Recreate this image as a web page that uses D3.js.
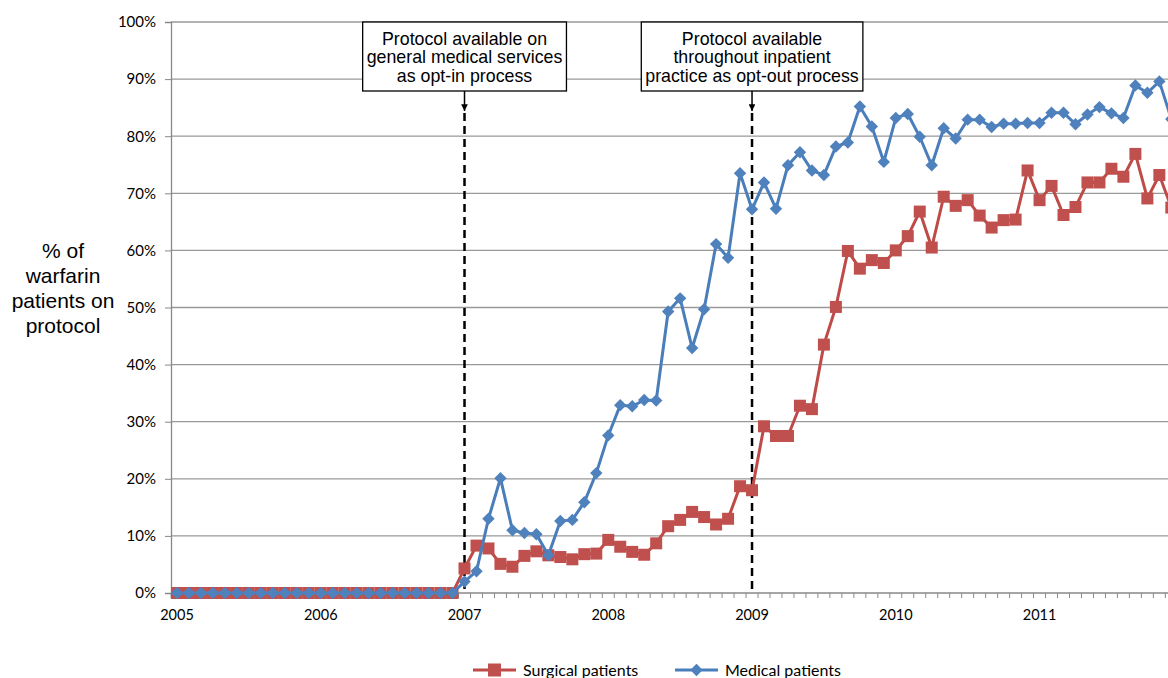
<!DOCTYPE html>
<html>
<head>
<meta charset="utf-8">
<script src="https://cdn.jsdelivr.net/npm/d3@7"></script>
<style>
  body { margin: 0; background: #fff; }
  svg { display: block; overflow: hidden; }
</style>
</head>
<body>
<div id="chart"></div>
<script>
// monthly values, Jan 2005 .. Dec 2011 (84 months)
var surgical = [
    0, 0, 0, 0, 0, 0, 0, 0, 0, 0, 0, 0,
    0, 0, 0, 0, 0, 0, 0, 0, 0, 0, 0, 0,
    4.3, 8.3, 7.8, 5.1, 4.6, 6.5, 7.3, 6.6, 6.3, 5.9, 6.8, 6.9,
    9.3, 8.1, 7.2, 6.7, 8.7, 11.7, 12.8, 14.2, 13.3, 12.0, 13.0, 18.7,
    18.0, 29.2, 27.5, 27.5, 32.8, 32.2, 43.5, 50.1, 59.9, 56.8, 58.3, 57.8,
    60.0, 62.5, 66.8, 60.5, 69.4, 67.8, 68.8, 66.1, 64.0, 65.3, 65.4, 74.0,
    68.8, 71.3, 66.2, 67.6, 71.9, 71.9, 74.3, 72.9, 76.9, 69.1, 73.2, 67.5
];
var medical = [
    0, 0, 0, 0, 0, 0, 0, 0, 0, 0, 0, 0,
    0, 0, 0, 0, 0, 0, 0, 0, 0, 0, 0, 0,
    2.0, 3.8, 13.0, 20.1, 11.0, 10.5, 10.3, 6.6, 12.6, 12.8, 15.9, 21.0,
    27.6, 32.9, 32.7, 33.8, 33.7, 49.3, 51.6, 42.9, 49.7, 61.1, 58.7, 73.5,
    67.2, 71.9, 67.3, 74.9, 77.2, 74.0, 73.2, 78.2, 78.9, 85.2, 81.7, 75.5,
    83.2, 83.9, 79.9, 74.9, 81.4, 79.6, 82.9, 82.9, 81.6, 82.2, 82.2, 82.3,
    82.3, 84.1, 84.1, 82.1, 83.8, 85.1, 84.0, 83.2, 88.9, 87.6, 89.6, 83.0
];
var years = ["2005", "2006", "2007", "2008", "2009", "2010", "2011"];
var yTicks = [0, 10, 20, 30, 40, 50, 60, 70, 80, 90, 100];
var yTitle = ["% of", "warfarin", "patients on", "protocol"];
// month index of each protocol change
var events = [
    { month: 24, lines: ["Protocol available on", "general medical services", "as opt-in process"] },
    { month: 48, lines: ["Protocol available", "throughout inpatient", "practice as opt-out process"] }
];
var seriesNames = ["Surgical patients", "Medical patients"];

var width = 1168, height = 678;
var plotLeft = 171, plotTop = 22, plotBottom = 593, monthW = 11.98;
var red = "#be4b48", redFill = "#c0504d", blue = "#4a7ebb", blueFill = "#4f81bd";
var calibri = "Lato, 'Open Sans', sans-serif";
var arial = "'Liberation Sans', Arial, sans-serif";

var svg = d3.select("#chart").append("svg")
    .attr("width", width)
    .attr("height", height);

var months = d3.range(surgical.length);
var x = d3.scaleBand()
    .domain(months)
    .range([plotLeft, plotLeft + months.length * monthW])
    .padding(0);
var cx = function (i) { return x(i) + x.bandwidth() / 2; };
var y = d3.scaleLinear().domain([0, 100]).range([plotBottom, plotTop]);

// gridlines
svg.append("g")
    .selectAll("line")
    .data(yTicks.filter(function (d) { return d > 0; }))
    .enter()
    .append("line")
    .attr("x1", plotLeft)
    .attr("x2", width)
    .attr("y1", function (d) { return y(d); })
    .attr("y2", function (d) { return y(d); })
    .attr("stroke", "#999")
    .attr("stroke-width", 1.3);

// y axis
var yAxis = svg.append("g")
    .attr("transform", "translate(" + plotLeft + ",0)")
    .call(d3.axisLeft(y).tickValues(yTicks).tickSize(6).tickPadding(9)
        .tickFormat(function (d) { return d + "%"; }));
yAxis.select(".domain").attr("stroke", "#888").attr("stroke-width", 1.3);
yAxis.selectAll(".tick line").attr("stroke", "#888");
yAxis.selectAll("text")
    .attr("font-family", calibri)
    .attr("font-size", 15)
    .attr("fill", "#000");

// x axis: minor tick at each month boundary
var xAxisG = svg.append("g").attr("transform", "translate(0," + plotBottom + ")");
xAxisG.append("line")
    .attr("x1", plotLeft).attr("x2", width)
    .attr("stroke", "#888").attr("stroke-width", 1.3);
xAxisG.selectAll("line.tick")
    .data(d3.range(months.length + 1))
    .enter()
    .append("line")
    .attr("class", "tick")
    .attr("x1", function (i) { return plotLeft + i * x.bandwidth(); })
    .attr("x2", function (i) { return plotLeft + i * x.bandwidth(); })
    .attr("y1", 0).attr("y2", 5)
    .attr("stroke", "#888");
xAxisG.selectAll("text")
    .data(years)
    .enter()
    .append("text")
    .attr("x", function (d, i) { return cx(i * 12); })
    .attr("y", 27)
    .attr("text-anchor", "middle")
    .attr("font-family", calibri)
    .attr("font-size", 14.5)
    .text(function (d) { return d; });

// y title
svg.append("text")
    .attr("text-anchor", "middle")
    .attr("font-family", arial)
    .attr("font-size", 21)
    .selectAll("tspan")
    .data(yTitle)
    .enter()
    .append("tspan")
    .attr("x", 63)
    .attr("y", function (d, i) { return 258 + i * 25; })
    .text(function (d) { return d; });

// event markers
svg.append("defs").append("marker")
    .attr("id", "arrow")
    .attr("viewBox", "0 0 10 10")
    .attr("refX", 10).attr("refY", 5)
    .attr("markerWidth", 4.5).attr("markerHeight", 4.5)
    .attr("orient", "auto")
    .append("path")
    .attr("d", "M0,0 L10,5 L0,10 Z")
    .attr("fill", "#000");

var ev = svg.selectAll("g.event")
    .data(events)
    .enter()
    .append("g")
    .attr("class", "event");
ev.append("line")
    .attr("x1", function (d) { return cx(d.month); })
    .attr("x2", function (d) { return cx(d.month); })
    .attr("y1", 113)
    .attr("y2", plotBottom)
    .attr("stroke", "#000")
    .attr("stroke-width", 2.5)
    .attr("stroke-dasharray", "8,5");
ev.append("line")
    .attr("x1", function (d) { return cx(d.month); })
    .attr("x2", function (d) { return cx(d.month); })
    .attr("y1", 91)
    .attr("y2", 111)
    .attr("stroke", "#000")
    .attr("stroke-width", 1.5)
    .attr("marker-end", "url(#arrow)");

ev.each(function (d) {
    var g = d3.select(this);
    var t = g.append("text")
        .attr("text-anchor", "middle")
        .attr("font-family", arial)
        .attr("font-size", 17.8)
        .attr("fill", "#000");
    d.lines.forEach(function (line, i) {
        t.append("tspan")
            .attr("x", cx(d.month))
            .attr("y", 45 + i * 18.3)
            .text(line);
    });
    var bb = t.node().getBBox();
    g.insert("rect", "text")
        .attr("x", bb.x - 4)
        .attr("y", 22)
        .attr("width", bb.width + 8)
        .attr("height", 69)
        .attr("fill", "#fff")
        .attr("stroke", "#000")
        .attr("stroke-width", 1.3);
});

// series
var line = d3.line()
    .x(function (d, i) { return cx(i); })
    .y(function (d) { return y(d); });

svg.append("path")
    .datum(surgical)
    .attr("d", line)
    .attr("fill", "none")
    .attr("stroke", red)
    .attr("stroke-width", 3);
svg.append("g")
    .selectAll("rect")
    .data(surgical)
    .enter()
    .append("rect")
    .attr("x", function (d, i) { return cx(i) - 6; })
    .attr("y", function (d) { return y(d) - 6; })
    .attr("width", 12)
    .attr("height", 12)
    .attr("fill", redFill);

svg.append("path")
    .datum(medical)
    .attr("d", line)
    .attr("fill", "none")
    .attr("stroke", blue)
    .attr("stroke-width", 3);
var diamond = d3.symbol().type(d3.symbolDiamond2).size(98);
svg.append("g")
    .selectAll("path")
    .data(medical)
    .enter()
    .append("path")
    .attr("d", diamond)
    .attr("transform", function (d, i) { return "translate(" + cx(i) + "," + y(d) + ")"; })
    .attr("fill", blueFill);

// legend
var legend = svg.append("g").attr("transform", "translate(0,670)");
var items = [
    { name: seriesNames[0], x0: 473, color: red, fill: redFill, shape: "square" },
    { name: seriesNames[1], x0: 675, color: blue, fill: blueFill, shape: "diamond" }
];
var li = legend.selectAll("g")
    .data(items)
    .enter()
    .append("g")
    .attr("transform", function (d) { return "translate(" + d.x0 + ",0)"; });
li.append("line")
    .attr("x1", 0).attr("x2", 43)
    .attr("stroke", function (d) { return d.color; })
    .attr("stroke-width", 3);
li.append("path")
    .attr("d", function (d) {
        return d.shape === "square"
            ? "M-6.5,-6.5 H6.5 V6.5 H-6.5 Z"
            : diamond();
    })
    .attr("transform", "translate(21.5,0)")
    .attr("fill", function (d) { return d.fill; });
li.append("text")
    .attr("x", 50)
    .attr("y", 5.5)
    .attr("font-family", calibri)
    .attr("font-size", 16)
    .text(function (d) { return d.name; });
</script>
</body>
</html>
